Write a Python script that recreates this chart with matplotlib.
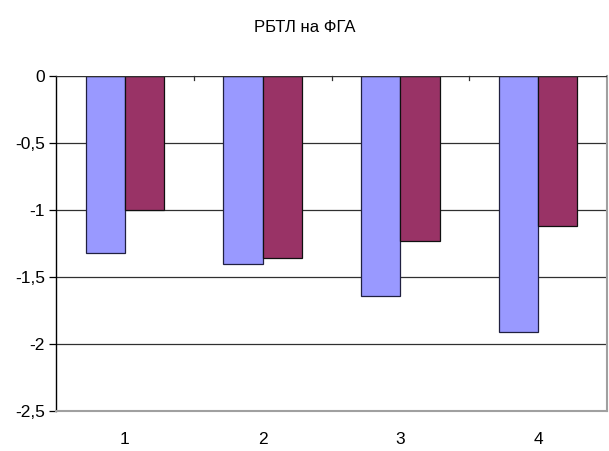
import matplotlib
matplotlib.use("Agg")
import matplotlib.pyplot as plt
import numpy as np

categories = ["1", "2", "3", "4"]
series_a = [-1.32, -1.40, -1.64, -1.91]
series_b = [-1.00, -1.36, -1.23, -1.12]
y_ticks = [0, -0.5, -1, -1.5, -2, -2.5]
y_tick_labels = ["0", "-0,5", "-1", "-1,5", "-2", "-2,5"]
title = "РБТЛ на ФГА"

plt.rcParams["font.family"] = ["Liberation Sans", "DejaVu Sans"]

fig = plt.figure(figsize=(6.09, 4.51), dpi=100)
ax = fig.add_axes([0.092, 0.0887, 0.9047, 0.7428])

x = np.arange(len(categories))
w = 1 / 3.5
ax.bar(x - w / 2, series_a, width=w, color="#9999FF", edgecolor="#202040", linewidth=0.9, zorder=3)
ax.bar(x + w / 2, series_b, width=w, color="#993366", edgecolor="#101010", linewidth=0.9, zorder=3)

ax.set_xlim(-0.5, len(categories) - 0.5)
ax.set_ylim(-2.5, 0)
ax.set_yticks(y_ticks)
ax.set_yticklabels(y_tick_labels, fontsize=12.5)
for yv in y_ticks[1:-1]:
    ax.axhline(yv, color="#303030", linewidth=0.9, zorder=1)

# category labels sit below the plot; ticks at the zero line between categories
ax.set_xticks(x)
ax.set_xticklabels(categories, fontsize=12.5)
ax.tick_params(axis="x", length=0, pad=15)
ax.tick_params(axis="y", length=5, width=0.9, direction="out", colors="black", pad=3)
for b in np.arange(0.5, len(categories) - 0.5, 1.0):
    ax.plot([b, b], [0, -0.03], color="#303030", linewidth=0.9, zorder=4, clip_on=False)
ax.axhline(0, color="#303030", linewidth=1.0, zorder=4)

ax.spines["left"].set_color("black")
ax.spines["left"].set_linewidth(1.0)
ax.spines["top"].set_visible(False)
ax.spines["right"].set_color("#A0A0A0")
ax.spines["bottom"].set_color("#A0A0A0")
ax.spines["right"].set_linewidth(1.5)
ax.spines["bottom"].set_linewidth(1.5)

fig.text(0.5, 0.94, title, ha="center", va="center", fontsize=12)

fig.savefig("out.png", dpi=100)
